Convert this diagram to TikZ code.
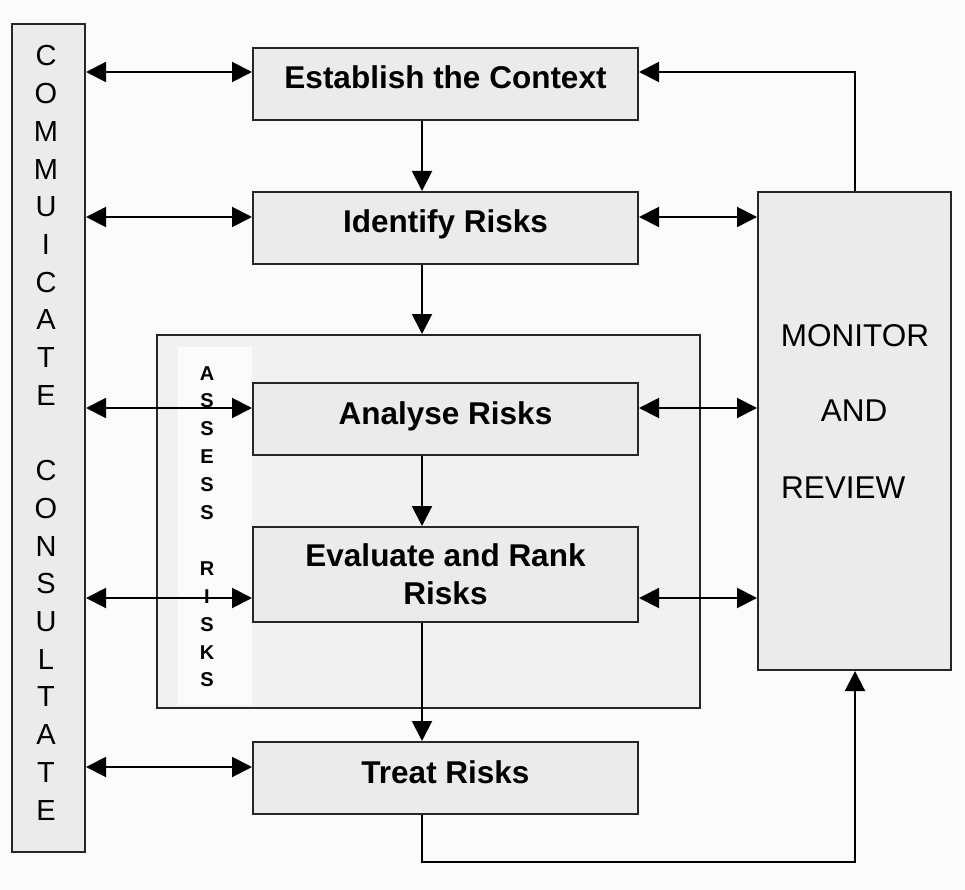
\documentclass[tikz,border=0pt]{standalone}
\usepackage{fontspec}
\setmainfont{Liberation Sans}
\usetikzlibrary{arrows.meta}
\definecolor{bg}{HTML}{FBFBFB}
\definecolor{boxfill}{HTML}{EBEBEB}
\definecolor{assessfill}{HTML}{F1F1F1}
\definecolor{edge}{HTML}{262626}
\begin{document}
\begin{tikzpicture}[x=1pt,y=-1pt,
  box/.style={draw=edge, line width=2pt, fill=boxfill, inner sep=0pt,
    minimum width=385pt, minimum height=72pt,
    font=\fontsize{31.5}{38}\selectfont\bfseries, text height=23pt, text depth=13pt},
  panel/.style={draw=edge, line width=2pt, inner sep=0pt},
  conn/.style={line width=2pt, draw=black},
  >={Triangle[length=20pt,width=20pt]},
  vletter/.style={font=\fontsize{29}{34}\selectfont, inner sep=0pt, anchor=base},
  aletter/.style={font=\fontsize{20}{24}\selectfont\bfseries, inner sep=0pt, anchor=base},
  montxt/.style={font=\fontsize{31.5}{38}\selectfont, inner sep=0pt, anchor=base}
]
\fill[bg] (0,0) rectangle (965,890);
\useasboundingbox (0,0) rectangle (965,890);

% assess risks panel
\node[panel, fill=assessfill, minimum width=543pt, minimum height=373pt] (assess) at (428.5,521.5) {};
\fill[bg] (178,347) rectangle (252,705);
\foreach \l [count=\i from 0] in {A,S,S,E,S,S}
  \node[aletter] (aa\i) at (207,{380+27.9*\i}) {\l};
\foreach \l [count=\i from 7] in {R,I,S,K,S}
  \node[aletter] (ar\i) at (207,{380+27.9*\i}) {\l};

% process boxes
\node[box] (est) at (445.5,84) {Establish the Context};
\node[box] (idr) at (445.5,228) {Identify Risks};
\node[box] (ana) at (445.5,419) {Analyse Risks};
\node[box, minimum height=95pt, text height=, text depth=, align=center] (eva) at (445.5,574.5) {Evaluate and Rank\\Risks};
\node[box] (trt) at (445.5,778) {Treat Risks};

% monitor and review
\node[panel, fill=boxfill, minimum width=193pt, minimum height=478pt] (mon) at (854.5,431) {};
\node[montxt] (mon1) at (855,346) {MONITOR};
\node[montxt] (mon2) at (854,421) {AND};
\node[montxt, anchor=base west] (mon3) at (781,498) {REVIEW};

% communicate consultate
\node[panel, fill=boxfill, minimum width=73pt, minimum height=828pt] (comm) at (48.5,438) {};
\foreach \l [count=\i from 0] in {C,O,M,M,U,I,C,A,T,E}
  \node[vletter] (cl\i) at (46,{66+37.7*\i}) {\l};
\foreach \l [count=\i from 11] in {C,O,N,S,U,L,T,A,T,E}
  \node[vletter] (cr\i) at (46,{66+37.7*\i}) {\l};

% left connectors
\draw[conn,<->] (comm.east |- 0,72) -- (est.west |- 0,72);
\draw[conn,<->] (comm.east |- 0,217) -- (idr.west |- 0,217);
\draw[conn,<->] (comm.east |- 0,408) -- (ana.west |- 0,408);
\draw[conn,<->] (comm.east |- 0,598) -- (eva.west |- 0,598);
\draw[conn,<->] (comm.east |- 0,767) -- (trt.west |- 0,767);

% right connectors
\draw[conn,<->] (idr.east |- 0,217) -- (mon.west |- 0,217);
\draw[conn,<->] (ana.east |- 0,408) -- (mon.west |- 0,408);
\draw[conn,<->] (eva.east |- 0,598) -- (mon.west |- 0,598);

% vertical flow
\draw[conn,->] (est.south -| 422,0) -- (idr.north -| 422,0);
\draw[conn,->] (idr.south -| 422,0) -- (assess.north -| 422,0);
\draw[conn,->] (ana.south -| 422,0) -- (eva.north -| 422,0);
\draw[conn,->] (eva.south -| 422,0) -- (trt.north -| 422,0);

% feedback loops
\coordinate (loop) at (855,862);
\draw[conn,->] (trt.south -| 422,0) |- (loop) -- (mon.south -| loop);
\draw[conn,->] (mon.north -| loop) |- (est.east |- 0,72);
\end{tikzpicture}
\end{document}
